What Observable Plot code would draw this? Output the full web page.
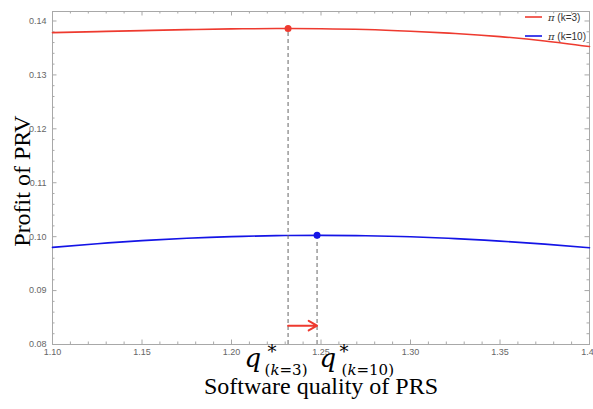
<!DOCTYPE html>
<html><head><meta charset="utf-8">
<script src="https://cdn.jsdelivr.net/npm/d3@7"></script>
<script src="https://cdn.jsdelivr.net/npm/@observablehq/plot@0.6"></script>
<style>
body{margin:0;background:#fff;}
#wrap{position:relative;width:593px;height:409px;}
</style></head><body><div id="wrap"></div>
<script>
// ---- data ----
const quality   = [1.10, 1.125, 1.15, 1.175, 1.20, 1.225, 1.232, 1.25, 1.275, 1.30, 1.325, 1.35, 1.375, 1.40];
const profitK3  = [0.13784, 0.13803, 0.13822, 0.13840, 0.13853, 0.13860, 0.13860, 0.13857, 0.13842, 0.13810, 0.13768, 0.13710, 0.13630, 0.13526];
const profitK10 = [0.09801, 0.09870, 0.09926, 0.09970, 0.10001, 0.10019, 0.10021, 0.10024, 0.10017, 0.09997, 0.09964, 0.09918, 0.09862, 0.09795];
const seriesNames = ["k=3", "k=10"];
const seriesColors = ["#ee3a2f", "#1414e6"];
const optimumQ = [1.2316, 1.2478];
const optimumProfit = [0.1386, 0.10024];
const arrowLevel = 0.0835;
const xTicks = [1.10, 1.15, 1.20, 1.25, 1.30, 1.35, 1.40];
const xTickLabels = ["1.10", "1.15", "1.20", "1.25", "1.30", "1.35", "1.4"];
const yTicks = [0.08, 0.09, 0.10, 0.11, 0.12, 0.13, 0.14];
const yTickLabels = ["0.08", "0.09", "0.10", "0.11", "0.12", "0.13", "0.14"];
const xDomain = [1.10, 1.40];
const yDomain = [0.08, 0.14176];

// ---- build tables ----
const rows = quality.map((q, i) => ({q, k3: profitK3[i], k10: profitK10[i]}));
const optima = optimumQ.map((q, i) => ({q, p: optimumProfit[i], c: seriesColors[i]}));
const xMinor = d3.range(110, 141, 1).map(v => v / 100).filter(v => !xTicks.some(t => Math.abs(t - v) < 1e-9));
const yMinor = d3.range(80, 141, 2).map(v => v / 1000).filter(v => !yTicks.some(t => Math.abs(t - v) < 1e-9));

const W = 593, H = 409, mL = 52, mR = 4, mT = 11, mB = 65;
const iW = W - mL - mR, iH = H - mT - mB;
const frameGray = "#a8a8a8";
const major = 4.5, minor = 2.5;
const nX = xTicks.length;

const plot = Plot.plot({
  width: W, height: H,
  marginLeft: mL, marginRight: mR, marginTop: mT, marginBottom: mB,
  x: {domain: xDomain, axis: null},
  y: {domain: yDomain, axis: null},
  style: {fontFamily: "'Liberation Sans', Arial, sans-serif", background: "#fff"},
  marks: [
    // frame ticks (inward, Mathematica style)
    Plot.tickX(xTicks, {x: d => d, stroke: frameGray, insetTop: iH - major}),
    Plot.tickX(xMinor, {x: d => d, stroke: frameGray, insetTop: iH - minor}),
    Plot.tickX(xTicks, {x: d => d, stroke: frameGray, insetBottom: iH - major}),
    Plot.tickX(xMinor, {x: d => d, stroke: frameGray, insetBottom: iH - minor}),
    Plot.tickY(yTicks, {y: d => d, stroke: frameGray, insetRight: iW - major}),
    Plot.tickY(yMinor, {y: d => d, stroke: frameGray, insetRight: iW - minor}),
    Plot.tickY(yTicks, {y: d => d, stroke: frameGray, insetLeft: iW - major}),
    Plot.tickY(yMinor, {y: d => d, stroke: frameGray, insetLeft: iW - minor}),
    Plot.frame({stroke: frameGray}),
    // tick labels
    Plot.text(xTicks, {filter: (d, i) => i < nX - 1, x: d => d, text: (d, i) => xTickLabels[i], frameAnchor: "bottom", textAnchor: "middle", lineAnchor: "top", dy: 4, fontSize: 9, fill: "#666"}),
    Plot.text(xTicks, {filter: (d, i) => i === nX - 1, x: d => d, text: (d, i) => xTickLabels[i], frameAnchor: "bottom", textAnchor: "middle", lineAnchor: "top", dy: 4, dx: -2, fontSize: 9, fill: "#666"}),
    Plot.text(yTicks, {y: d => d, text: (d, i) => yTickLabels[i], frameAnchor: "left", textAnchor: "end", dx: -6, fontSize: 9, fill: "#666"}),
    // curves
    Plot.line(rows, {x: "q", y: "k3", stroke: seriesColors[0], strokeWidth: 1.6, curve: "natural"}),
    Plot.line(rows, {x: "q", y: "k10", stroke: seriesColors[1], strokeWidth: 1.6, curve: "natural"}),
    // optimum markers
    Plot.ruleX(optima, {x: "q", y1: yDomain[0], y2: "p", stroke: "#666", strokeDasharray: "4,3", strokeWidth: 1}),
    Plot.dot(optima, {x: "q", y: "p", r: 3.5, fill: "c", stroke: null}),
    Plot.arrow([{x1: optimumQ[0], x2: optimumQ[1], y: arrowLevel}], {x1: "x1", x2: "x2", y1: "y", y2: "y", stroke: seriesColors[0], strokeWidth: 2, headLength: 8}),
    // axis titles
    Plot.text(["Profit of PRV"], {frameAnchor: "left", textAnchor: "middle", rotate: -90, dx: -30, dy: 3, fontSize: 24, fontFamily: "'Liberation Serif', 'Times New Roman', serif", fill: "#000"}),
    Plot.text(["Software quality of PRS"], {frameAnchor: "bottom", textAnchor: "middle", lineAnchor: "bottom", dy: 49, fontSize: 24, fontFamily: "'Liberation Serif', 'Times New Roman', serif", fill: "#000"})
  ]
});
document.getElementById("wrap").appendChild(plot);

// ---- q* annotations and legend (text) ----
const svg = d3.select(plot);
const xs = plot.scale("x");
const serif = "'DejaVu Serif', serif";
function qLabel(q, dq, dstar, dsub, sub) {
  const x0 = xs.apply(q);
  const g = svg.append("g").attr("font-family", serif).attr("fill", "#000").attr("text-anchor", "start");
  g.append("text").attr("x", x0 + dq).attr("y", 367).attr("font-size", 26).attr("font-style", "italic").text("q");
  g.append("text").attr("x", x0 + dstar).attr("y", 358).attr("font-size", 18).text("*");
  const t = g.append("text").attr("x", x0 + dsub).attr("y", 375).attr("font-size", 15);
  t.append("tspan").text("(");
  t.append("tspan").attr("font-style", "italic").text("k");
  t.append("tspan").text("=" + sub + ")");
}
qLabel(optimumQ[0], -43, -20, -23, "3");
qLabel(optimumQ[1], 3, 23, 25, "10");

const leg = svg.append("g").attr("font-family", "'Liberation Sans', Arial, sans-serif").attr("font-size", 10).attr("fill", "#333").attr("text-anchor", "start");
seriesNames.forEach((name, i) => {
  const y = 17 + i * 19;
  leg.append("line").attr("x1", 525).attr("x2", 542).attr("y1", y).attr("y2", y).attr("stroke", seriesColors[i]).attr("stroke-width", 1.6);
  const t = leg.append("text").attr("x", 548).attr("y", y + 3.5);
  t.append("tspan").attr("font-style", "italic").attr("font-family", serif).text("π");
  t.append("tspan").text(" (" + name + ")");
});
</script>
</body></html>
